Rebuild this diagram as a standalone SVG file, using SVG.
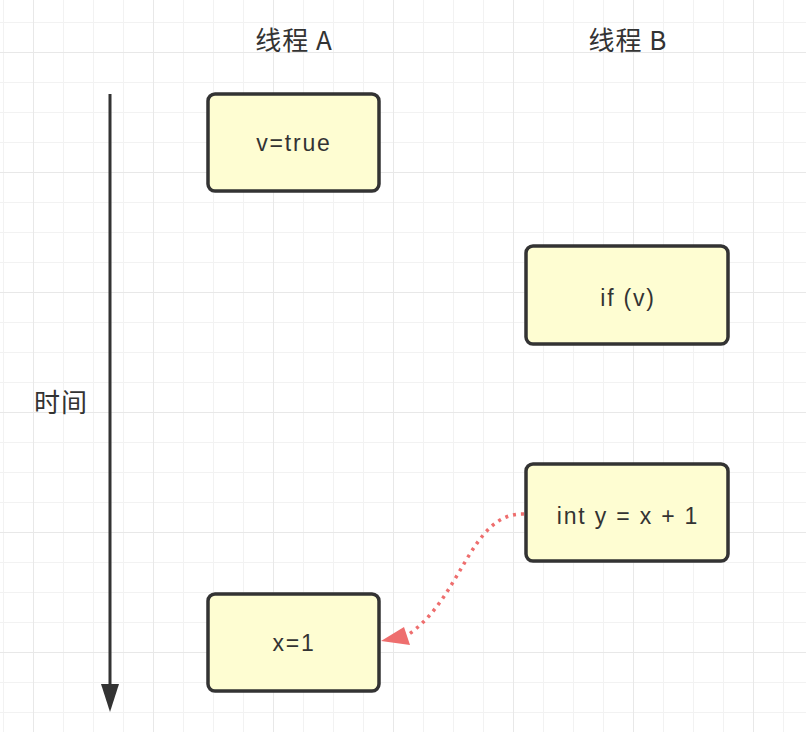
<svg xmlns="http://www.w3.org/2000/svg" width="806" height="732" viewBox="0 0 806 732">
<defs>
<pattern id="minor" x="3" y="22" width="30" height="30" patternUnits="userSpaceOnUse">
<path d="M0 0H30M0 0V30" fill="none" stroke="#f2f2f2" stroke-width="2"/>
</pattern>
<pattern id="major" x="33" y="52" width="120" height="120" patternUnits="userSpaceOnUse">
<path d="M0 0H120M0 0V120" fill="none" stroke="#e8e8e8" stroke-width="2"/>
</pattern>
<style>
.node rect{fill:#fefdd2;stroke:#333;stroke-width:3.5}
.lbl{font-family:"Liberation Sans","Noto Sans CJK SC",sans-serif;font-size:23px;letter-spacing:1.8px;fill:#333;text-anchor:middle;dominant-baseline:central}
.cjk{font-family:"Noto Sans CJK SC",sans-serif;font-size:26px;letter-spacing:1px}
</style>
</defs>
<rect width="806" height="732" fill="#fff"/>
<rect width="806" height="732" fill="url(#minor)"/>
<rect width="806" height="732" fill="url(#major)"/>
<g id="labels">
<text class="lbl cjk" x="294" y="38">线程 A</text>
<text class="lbl cjk" x="628" y="38">线程 B</text>
<text class="lbl cjk" x="61" y="400">时间</text>
</g>
<g id="connectors">
<line x1="110" y1="94" x2="110" y2="688" stroke="#333" stroke-width="3"/>
<polygon points="101,684 119,684 110,712" fill="#333"/>
<path d="M524 514 C470 512 462 600 406 636" fill="none" stroke="#ee6e6e" stroke-width="3.5" stroke-dasharray="3 5"/>
<polygon points="381,641 404,627 410,645" fill="#ee6e6e"/>
</g>
<g id="n1" class="node"><rect x="208" y="94" width="171" height="97" rx="7"/><text class="lbl" x="294" y="143">v=true</text></g>
<g id="n2" class="node"><rect x="526" y="246" width="202" height="98" rx="7"/><text class="lbl" x="628" y="298">if (v)</text></g>
<g id="n3" class="node"><rect x="526" y="464" width="202" height="97" rx="7"/><text class="lbl" x="628" y="516">int y = x + 1</text></g>
<g id="n4" class="node"><rect x="208" y="594" width="171" height="97" rx="7"/><text class="lbl" x="294" y="643">x=1</text></g>
</svg>
